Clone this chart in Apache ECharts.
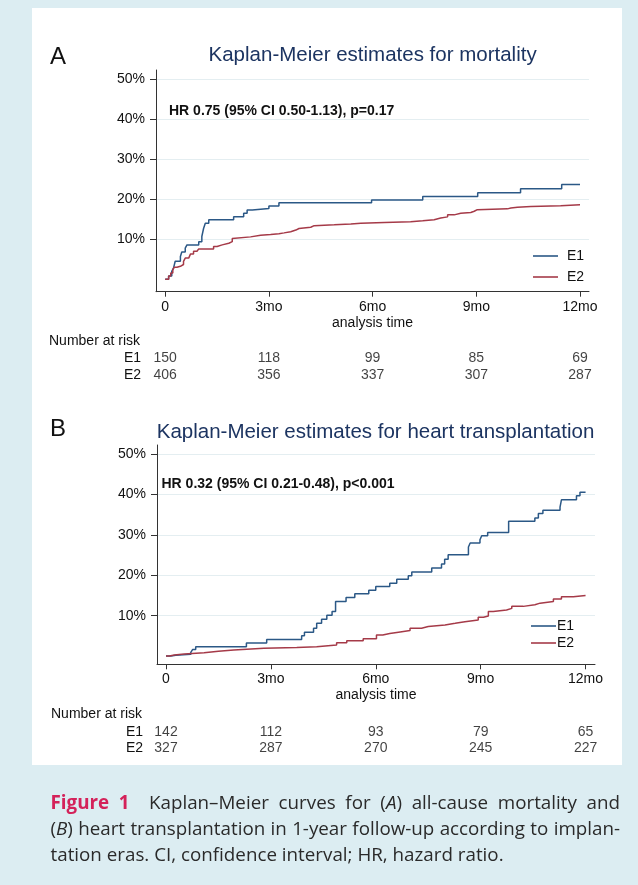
<!DOCTYPE html>
<html><head><meta charset="utf-8">
<script src="https://cdn.jsdelivr.net/npm/echarts@6/dist/echarts.min.js"></script>
<style>html,body{margin:0;padding:0;background:#dcedf2}#c{width:638px;height:885px}</style>
</head><body><div id="c"></div><script>
// ---------- data ----------
const seriesNames = ['E1', 'E2'];
const xTickValues = [0, 3, 6, 9, 12];
const xTickLabels = ['0', '3mo', '6mo', '9mo', '12mo'];
const yTickValues = [10, 20, 30, 40, 50];

// Panel A: mortality (months, cumulative %)
const mortE1 = [[0,0],[0.1,0.8],[0.19,2.0],[0.24,2.8],[0.29,4.5],[0.44,5.7],[0.48,6.8],[0.58,7.8],[0.63,8.6],[0.97,9.4],[1.06,10.7],[1.11,12.7],[1.16,14.0],[1.26,14.9],[1.98,15.6],[2.27,16.5],[2.37,17.3],[2.52,17.7],[3.0,18.3],[3.29,19.1],[5.97,19.8],[7.45,20.7],[9.04,21.6],[10.28,22.6],[11.47,23.7],[12.0,23.7]];
const mortE2 = [[0,0],[0.1,0.8],[0.16,1.6],[0.22,2.4],[0.26,3.0],[0.34,3.25],[0.44,3.7],[0.53,4.5],[0.58,5.3],[0.68,5.7],[0.73,6.3],[0.82,7.0],[0.92,7.4],[0.97,7.6],[1.4,8.2],[1.5,8.6],[1.65,9.0],[1.84,9.4],[1.94,10.2],[1.98,10.6],[2.47,11.0],[2.76,11.2],[3.05,11.4],[3.29,11.6],[3.44,11.9],[3.63,12.3],[3.78,12.7],[3.87,13.0],[4.21,13.4],[4.31,13.6],[4.89,13.8],[5.37,14.0],[5.66,14.2],[6.34,14.4],[7.1,14.6],[7.45,14.9],[7.78,15.3],[7.97,15.6],[8.17,16.1],[8.36,16.5],[8.55,16.7],[8.84,17.0],[8.94,17.4],[9.03,17.6],[9.9,17.8],[10.0,18.0],[10.19,18.2],[10.58,18.4],[11.44,18.6],[12.0,18.7]];

// Panel B: heart transplantation
const txE1 = [[0,0],[0.14,0.2],[0.28,0.4],[0.71,0.9],[0.76,1.6],[0.85,2.3],[2.3,3.2],[2.88,4.1],[3.88,5.0],[3.96,5.9],[4.22,6.9],[4.31,8.1],[4.45,9.1],[4.6,10.1],[4.75,11.0],[4.85,13.5],[5.15,14.5],[5.4,15.4],[5.8,16.3],[6.0,17.2],[6.4,18.0],[6.6,19.0],[6.93,19.9],[7.03,20.8],[7.6,21.8],[7.88,22.8],[7.97,24.0],[8.07,25.1],[8.65,27.0],[8.7,28.0],[8.98,28.8],[9.03,29.8],[9.2,30.6],[9.8,33.4],[10.55,34.2],[10.65,35.3],[10.78,36.1],[11.27,36.9],[11.31,38.7],[11.74,39.7],[11.84,40.6],[12.0,40.6]];
const txE2 = [[0,0],[0.1,0.25],[0.24,0.5],[0.52,0.8],[1.09,1.2],[1.5,1.5],[1.94,1.9],[2.8,2.1],[3.74,2.3],[4.31,2.7],[4.88,3.3],[5.17,3.8],[5.64,4.3],[6.02,5.2],[6.2,5.6],[6.4,5.9],[6.65,6.3],[6.98,6.9],[7.31,7.3],[7.5,7.7],[7.98,8.1],[8.27,8.5],[8.55,8.9],[8.93,9.6],[9.08,9.9],[9.22,11.0],[9.36,11.4],[9.74,11.8],[9.89,12.3],[10.22,12.7],[10.55,13.1],[10.7,13.5],[11.08,14.1],[11.31,14.7],[11.65,15.0],[12.0,15.0]];

// Numbers at risk
const riskTimes = [0, 3, 6, 9, 12];
const mortRiskE1 = [150, 118, 99, 85, 69];
const mortRiskE2 = [406, 356, 337, 307, 287];
const txRiskE1 = [142, 112, 93, 79, 65];
const txRiskE2 = [327, 287, 270, 245, 227];

// Texts
const panelLabels = ['A', 'B'];
const panelTitles = ['Kaplan-Meier estimates for mortality', 'Kaplan-Meier estimates for heart transplantation'];
const hrTexts = ['HR 0.75 (95% CI 0.50-1.13), p=0.17', 'HR 0.32 (95% CI 0.21-0.48), p<0.001'];
const xAxisName = 'analysis time';
const riskHeader = 'Number at risk';
const captionLines = [
  ['{fig|Figure}', '{fig|1}', 'Kaplan–Meier', 'curves', 'for', '({it|A})', 'all-cause', 'mortality', 'and'],
  ['({it|B})', 'heart', 'transplantation', 'in', '1-year', 'follow-up', 'according', 'to', 'implan-'],
  ['tation', 'eras.', 'CI,', 'confidence', 'interval;', 'HR,', 'hazard', 'ratio.']
];
const captionJustify = [true, true, false];

// ---------- styling ----------
const F = '"Liberation Sans", Arial, Helvetica, sans-serif';
const CF = '"Open Sans", Lato, sans-serif';
const CFS = 18.8;
const C_E1 = '#2b5886';
const C_E2 = '#a53a48';
const AX = '#333333';
const LEG_ICON = 'path://M0,0h25v1.6h-25z';

function mainX(gi, min, max) {
  return {
    gridIndex: gi, type: 'value', min: min, max: max,
    axisLine: { show: true, onZero: false, lineStyle: { color: AX, width: 1 } },
    axisTick: { show: true, length: 5, customValues: xTickValues, lineStyle: { color: AX } },
    axisLabel: { customValues: xTickValues, margin: 8, fontFamily: F, fontSize: 14, color: '#111',
      formatter: v => xTickLabels[xTickValues.indexOf(v)] },
    splitLine: { show: false },
    name: xAxisName, nameLocation: 'middle', nameGap: 24,
    nameTextStyle: { fontFamily: F, fontSize: 14, color: '#111' }
  };
}
function mainY(gi, min, max) {
  return {
    gridIndex: gi, type: 'value', min: min, max: max,
    axisLine: { show: true, onZero: false, lineStyle: { color: AX, width: 1 } },
    axisTick: { show: true, length: 6, customValues: yTickValues, lineStyle: { color: AX } },
    axisLabel: { customValues: yTickValues, margin: 11, fontFamily: F, fontSize: 14, color: '#111',
      formatter: v => v + '%' },
    splitLine: { show: true, lineStyle: { color: '#e4eef1', width: 1 } }
  };
}
function riskX(gi, min, max) {
  return { gridIndex: gi, type: 'value', min: min, max: max, show: false };
}
function riskY(gi, margin) {
  return {
    gridIndex: gi, type: 'category', data: seriesNames, inverse: true,
    axisLine: { show: false }, axisTick: { show: false }, splitLine: { show: false },
    axisLabel: { interval: 0, margin: margin, fontFamily: F, fontSize: 14, color: '#111' }
  };
}
function kmSeries(name, data, gi, color) {
  return {
    name: name, type: 'line', step: 'end', xAxisIndex: gi, yAxisIndex: gi,
    data: data, symbol: 'none', lineStyle: { color: color, width: 1.5 }, itemStyle: { color: color },
    silent: true, animation: false
  };
}
function riskSeries(gi, row, values) {
  return {
    type: 'scatter', xAxisIndex: gi, yAxisIndex: gi, symbolSize: 1,
    itemStyle: { color: 'rgba(0,0,0,0)' }, silent: true, animation: false,
    data: riskTimes.map((t, i) => [t, row, values[i]]),
    label: { show: true, position: 'inside', formatter: p => String(p.value[2]),
      fontFamily: F, fontSize: 14, color: '#111' },
    labelLayout: { hideOverlap: false }
  };
}
function txt(x, y, text, size, opts) {
  return { type: 'text', x: x, y: y, silent: true,
    style: Object.assign({ text: text, fontFamily: F, fontSize: size, fill: '#111', textVerticalAlign: 'middle' }, opts || {}) };
}

// ---------- justified caption layout ----------
const mctx = document.createElement('canvas').getContext('2d');
function segs(tok) {
  const out = []; const re = /\{(\w+)\|([^}]*)\}|([^{]+)/g; let m;
  while ((m = re.exec(tok))) { if (m[1]) out.push([m[2], m[1]]); else out.push([m[3], '']); }
  return out;
}
function fontFor(st) {
  return (st === 'it' ? 'italic ' : '') + (st === 'fig' ? 'bold ' : '') + CFS + 'px "Open Sans"';
}
function tokW(tok) {
  return segs(tok).reduce((s, [t, st]) => { mctx.font = fontFor(st); return s + mctx.measureText(t).width; }, 0);
}
const capRich = {
  fig: { fontFamily: CF, fontSize: CFS, fontWeight: 'bold', fill: '#d4225a' },
  it: { fontFamily: CF, fontSize: CFS, fontStyle: 'italic', fill: '#2a2a2a' }
};
const capLeft = 50.5, capRight = 620, capTop = 804, capLH = 26;
const captionEls = [];
captionLines.forEach((toks, li) => {
  mctx.font = fontFor('');
  const sp = mctx.measureText(' ').width;
  const widths = toks.map(tokW);
  const weights = toks.slice(1).map((t, i) => (li === 0 && i === 1) ? 2 : 1);
  const totalW = widths.reduce((a, b) => a + b, 0);
  const sumWt = weights.reduce((a, b) => a + b, 0);
  const unit = captionJustify[li] ? (capRight - capLeft - totalW) / sumWt : sp;
  let x = capLeft;
  toks.forEach((tok, i) => {
    captionEls.push({ type: 'text', x: x, y: capTop + li * capLH, silent: true,
      style: { text: tok, fontFamily: CF, fontSize: CFS, fill: '#2a2a2a', textVerticalAlign: 'middle', rich: capRich } });
    x += widths[i] + (i < weights.length ? weights[i] * unit : 0);
  });
});

const option = {
  backgroundColor: '#dcedf2',
  animation: false,
  grid: [
    { left: 156, right: 49, top: 70, bottom: 593.3 },
    { left: 157, right: 43, top: 445, bottom: 220.7 },
    { left: 156, right: 49, top: 350, bottom: 501.6 },
    { left: 157, right: 43, top: 723.4, bottom: 128.4 }
  ],
  xAxis: [ mainX(0, -0.266, 12.26), mainX(1, -0.257, 12.27), riskX(2, -0.266, 12.26), riskX(3, -0.257, 12.27) ],
  yAxis: [ mainY(0, -3.1, 52.3), mainY(1, -2.06, 52.3), riskY(2, 15), riskY(3, 14) ],
  legend: [
    { data: seriesNames.map(n => ({ name: n, icon: LEG_ICON })), orient: 'vertical', left: 528, top: 244,
      itemWidth: 25, itemHeight: 14, itemGap: 7,
      textStyle: { fontFamily: F, fontSize: 14, color: '#111', padding: [0, 0, 0, 4] }, selectedMode: false },
    { data: seriesNames.map(n => ({ name: n, icon: LEG_ICON })), orient: 'vertical', left: 526, top: 614,
      itemWidth: 25, itemHeight: 14, itemGap: 3,
      textStyle: { fontFamily: F, fontSize: 14, color: '#111', padding: [0, 0, 0, -4] }, selectedMode: false }
  ],
  series: [
    kmSeries(seriesNames[0], mortE1, 0, C_E1),
    kmSeries(seriesNames[1], mortE2, 0, C_E2),
    kmSeries(seriesNames[0], txE1, 1, C_E1),
    kmSeries(seriesNames[1], txE2, 1, C_E2),
    riskSeries(2, seriesNames[0], mortRiskE1),
    riskSeries(2, seriesNames[1], mortRiskE2),
    riskSeries(3, seriesNames[0], txRiskE1),
    riskSeries(3, seriesNames[1], txRiskE2)
  ],
  graphic: [
    { type: 'rect', shape: { x: 32, y: 8, width: 590, height: 757 }, style: { fill: '#ffffff' }, silent: true, z: -10 },
    txt(50, 57, panelLabels[0], 24),
    txt(50, 429, panelLabels[1], 24),
    txt(372.6, 55, panelTitles[0], 20.5, { fill: '#1c3461', textAlign: 'center' }),
    txt(375.5, 432, panelTitles[1], 20.5, { fill: '#1c3461', textAlign: 'center' }),
    txt(169, 110.7, hrTexts[0], 14, { fontWeight: 'bold' }),
    txt(161.5, 484, hrTexts[1], 14, { fontWeight: 'bold' }),
    txt(49, 341, riskHeader, 14),
    txt(51, 714, riskHeader, 14),
    { type: 'group', silent: true, children: captionEls }
  ]
};
const chart = echarts.init(document.getElementById('c'), null, { renderer: 'canvas' });
chart.setOption(option);
</script></body></html>
